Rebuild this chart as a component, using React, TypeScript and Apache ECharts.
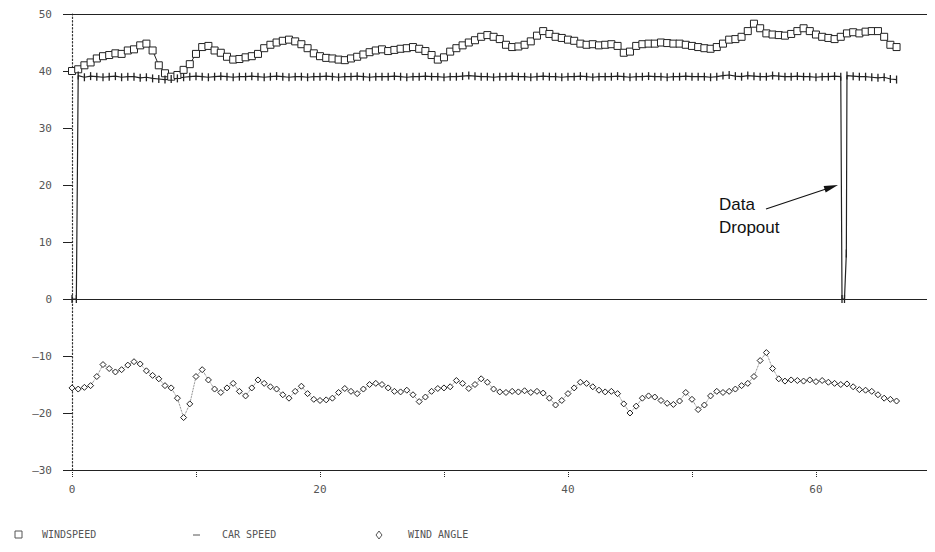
import React, { useEffect, useRef } from "react";
import * as echarts from "echarts";

// Sampling step of the recorded data (x units)
const STEP = 0.5;

const WINDSPEED = [
  40.0, 40.3, 41.0, 41.5, 42.2, 42.6, 42.8, 43.1, 43.0, 43.6,
  43.8, 44.5, 44.8, 43.6, 41.0, 39.6, 39.0, 39.3, 40.2, 41.2,
  43.0, 44.2, 44.4, 43.6, 43.2, 42.5, 42.0, 42.1, 42.4, 42.6,
  43.0, 44.0, 44.6, 45.0, 45.3, 45.5, 45.2, 44.7, 44.0, 43.1,
  42.6, 42.3, 42.2, 42.0, 41.9, 42.2, 42.5, 42.9, 43.3, 43.6,
  43.8, 43.5, 43.7, 43.9, 44.0, 44.2, 43.9, 43.5, 42.8, 42.0,
  42.4, 43.4, 44.0, 44.5, 45.0, 45.4, 46.0, 46.3, 46.0, 45.6,
  44.6, 44.2, 44.3, 44.6, 45.2, 46.2, 47.0, 46.5, 46.0, 45.8,
  45.5, 45.3, 44.8, 44.6, 44.7, 44.5, 44.6, 44.7, 44.4, 43.2,
  43.4, 44.4, 44.7, 44.8, 44.8, 45.0, 44.9, 44.8, 44.8, 44.6,
  44.4, 44.2, 44.0, 43.9, 44.2, 44.8, 45.5, 45.6, 46.0, 47.0,
  48.3, 47.5, 46.6, 46.4, 46.3, 46.2, 46.5, 47.0, 47.5, 47.0,
  46.4, 46.0, 45.8, 45.6, 46.0, 46.6, 46.8, 46.6, 46.9, 47.0,
  47.0, 46.0, 44.6, 44.2,
];

const CAR_SPEED = [
  0, 39.2, 38.9, 39.1, 39.0, 38.9, 39.0, 39.1, 38.9, 39.0,
  39.0, 38.8, 38.9, 38.7, 38.6, 38.5, 38.6, 38.7, 38.9, 39.0,
  39.1, 39.0, 38.9, 39.0, 39.1, 39.0, 38.9, 39.0, 39.0, 39.1,
  39.0, 38.9, 39.0, 39.1, 39.0, 38.9, 39.0, 39.0, 38.9, 39.0,
  39.0, 39.1, 39.0, 38.9, 39.0, 39.0, 39.1, 39.0, 38.9, 39.0,
  39.0, 39.0, 39.1, 39.0, 38.9, 39.0, 39.0, 39.1, 39.0, 39.0,
  38.9, 39.0, 39.0, 39.1, 39.2, 39.1, 39.0, 39.0, 38.9, 39.0,
  39.0, 39.1, 39.0, 39.0, 38.9, 39.0, 39.1, 39.0, 39.0, 38.9,
  39.0, 39.0, 39.1, 39.0, 38.9, 39.0, 39.0, 39.0, 39.1, 39.0,
  38.9, 39.0, 39.0, 39.1, 39.0, 39.0, 38.9, 39.0, 39.0, 39.1,
  39.0, 39.0, 39.0, 38.9, 39.0, 39.2, 39.3, 39.1, 39.0, 39.2,
  39.1, 39.0, 39.0, 39.2, 39.1, 39.0, 39.0, 39.1, 39.0, 39.0,
  38.9, 39.0, 39.0, 39.1, 39.0, 39.2, 39.1, 39.0, 39.0, 38.9,
  38.8, 38.9, 38.6, 38.5,
];

// Extra car-speed samples: start-up and the data dropout
const EXTRA_X = [0.35, 62.1, 62.3, 62.45];
const EXTRA_V = [0, 0, 0, 8];

const WIND_ANGLE = [
  -15.6, -15.8, -15.5, -15.2, -13.6, -11.5, -12.2, -12.8, -12.4, -11.6,
  -11.0, -11.4, -12.6, -13.4, -14.0, -15.2, -15.6, -17.4, -20.8, -18.4,
  -13.6, -12.4, -14.2, -15.8, -16.4, -15.6, -14.8, -16.2, -17.0, -15.6,
  -14.2, -14.8, -15.4, -15.8, -16.8, -17.4, -16.2, -15.3, -16.6, -17.6,
  -17.8, -17.7, -17.4, -16.4, -15.7, -16.2, -16.6, -15.8, -15.0, -14.8,
  -15.0, -15.6, -16.2, -16.3, -16.0, -16.8, -18.0, -17.2, -16.2, -15.7,
  -15.6, -15.4, -14.3, -14.8, -15.7, -15.0, -14.0, -14.6, -15.8, -16.3,
  -16.4, -16.2, -16.3, -16.1, -16.4, -16.2, -16.5, -17.4, -18.6, -17.8,
  -16.6, -15.6, -14.6, -14.8, -15.4, -16.0, -16.3, -16.2, -16.6, -18.4,
  -20.0, -18.8, -17.4, -17.0, -17.2, -17.8, -18.3, -18.5, -17.9, -16.4,
  -17.6, -19.4, -18.6, -17.0, -16.2, -16.4, -16.2, -15.8, -15.2, -14.8,
  -13.6, -10.8, -9.4, -12.2, -14.0, -14.4, -14.2, -14.3, -14.4, -14.2,
  -14.5, -14.3, -14.6, -14.8, -15.0, -14.9, -15.4, -15.9, -16.0, -16.2,
  -16.8, -17.4, -17.6, -17.9,
];

const X_LABELS_SHOWN = [0, 20, 40, 60];
const LEGEND_NAMES = ["WINDSPEED", "CAR SPEED", "WIND ANGLE"];

const INK = "#222";
const TEXT_GRAY = "#555";
const MONO = "'DejaVu Sans Mono', monospace";

export default function App() {
  const ref = useRef<HTMLDivElement>(null);

  useEffect(() => {
    if (!ref.current) return;
    const chart = echarts.init(ref.current, null, { renderer: "svg" });

    const wind = WINDSPEED.map((v, i) => [i * STEP, v]);
    const angle = WIND_ANGLE.map((v, i) => [i * STEP, v]);
    const car = CAR_SPEED.map((v, i) => [i * STEP, v]);
    EXTRA_X.forEach((x, i) => car.push([x, EXTRA_V[i]]));
    car.sort((a, b) => a[0] - b[0]);

    chart.setOption({
      animation: false,
      backgroundColor: "#fff",
      grid: { left: 72, right: 0, top: 14, bottom: 82, containLabel: false },
      xAxis: {
        type: "value",
        min: 0,
        max: 69.6,
        interval: 10,
        axisLine: { show: true, onZero: false, lineStyle: { color: INK, width: 1.2 } },
        axisTick: { show: true, length: 7, lineStyle: { color: INK, type: "dotted" } },
        splitLine: { show: false },
        axisLabel: {
          color: TEXT_GRAY,
          fontFamily: MONO,
          fontSize: 11,
          margin: 14,
          showMaxLabel: false,
          formatter: (v: number) => (X_LABELS_SHOWN.includes(v) ? String(v) : ""),
        },
      },
      yAxis: {
        type: "value",
        min: -30,
        max: 50,
        interval: 10,
        axisLine: { show: true, lineStyle: { color: "#333", type: [1.5, 2], width: 1.2 } },
        axisTick: { show: true, length: 9, lineStyle: { color: INK } },
        splitLine: { show: false },
        axisLabel: {
          color: TEXT_GRAY,
          fontFamily: MONO,
          fontSize: 11,
          margin: 20,
          formatter: (v: number) => (v < 0 ? "\u2014" + Math.abs(v) : String(v)),
        },
      },
      series: [
        {
          name: LEGEND_NAMES[0],
          type: "line",
          data: wind,
          symbol: "rect",
          symbolSize: 7,
          showAllSymbol: true,
          lineStyle: { color: INK, width: 1 },
          itemStyle: { color: "#fff", borderColor: INK, borderWidth: 1 },
          markLine: {
            silent: true,
            symbol: "none",
            label: { show: false },
            lineStyle: { color: INK, type: "solid", width: 1.2 },
            data: [{ yAxis: 0 }, { yAxis: 50 }],
          },
        },
        {
          name: LEGEND_NAMES[1],
          type: "line",
          data: car,
          symbol: "rect",
          symbolSize: [1.3, 8],
          showAllSymbol: true,
          lineStyle: { color: INK, width: 1.2 },
          itemStyle: { color: INK },
        },
        {
          name: LEGEND_NAMES[2],
          type: "line",
          data: angle,
          symbol: "diamond",
          symbolSize: 6,
          showAllSymbol: true,
          lineStyle: { color: "#444", width: 0.8, type: "dotted" },
          itemStyle: { color: "#fff", borderColor: INK, borderWidth: 1 },
        },
      ],
      graphic: [
        // annotation
        {
          type: "text",
          left: 719,
          top: 196,
          style: { text: "Data", fontFamily: "'Liberation Sans', Arial, sans-serif", fontSize: 17, fill: "#111" },
        },
        {
          type: "text",
          left: 719,
          top: 219,
          style: { text: "Dropout", fontFamily: "'Liberation Sans', Arial, sans-serif", fontSize: 17, fill: "#111" },
        },
        {
          type: "line",
          shape: { x1: 766, y1: 209, x2: 826, y2: 189 },
          style: { stroke: "#111", lineWidth: 1.2 },
        },
        {
          type: "polygon",
          shape: { points: [[838, 185], [825.7, 192.6], [823.6, 186]] },
          style: { fill: "#111" },
        },
        // legend
        {
          type: "rect",
          shape: { x: 15, y: 531, width: 7, height: 7 },
          style: { fill: "#fff", stroke: TEXT_GRAY, lineWidth: 1 },
        },
        {
          type: "text",
          left: 42,
          top: 529,
          style: { text: LEGEND_NAMES[0], fontFamily: MONO, fontSize: 10, fill: TEXT_GRAY, letterSpacing: 1 } as any,
        },
        {
          type: "line",
          shape: { x1: 193, y1: 535, x2: 200, y2: 535 },
          style: { stroke: TEXT_GRAY, lineWidth: 1 },
        },
        {
          type: "text",
          left: 222,
          top: 529,
          style: { text: LEGEND_NAMES[1], fontFamily: MONO, fontSize: 10, fill: TEXT_GRAY, letterSpacing: 1 } as any,
        },
        {
          type: "polygon",
          shape: { points: [[379, 531], [382, 535], [379, 539], [376, 535]] },
          style: { fill: "#fff", stroke: TEXT_GRAY, lineWidth: 1 },
        },
        {
          type: "text",
          left: 408,
          top: 529,
          style: { text: LEGEND_NAMES[2], fontFamily: MONO, fontSize: 10, fill: TEXT_GRAY, letterSpacing: 1 } as any,
        },
      ],
    });

    return () => chart.dispose();
  }, []);

  return <div ref={ref} style={{ width: 935, height: 552, margin: -8 }} />;
}
